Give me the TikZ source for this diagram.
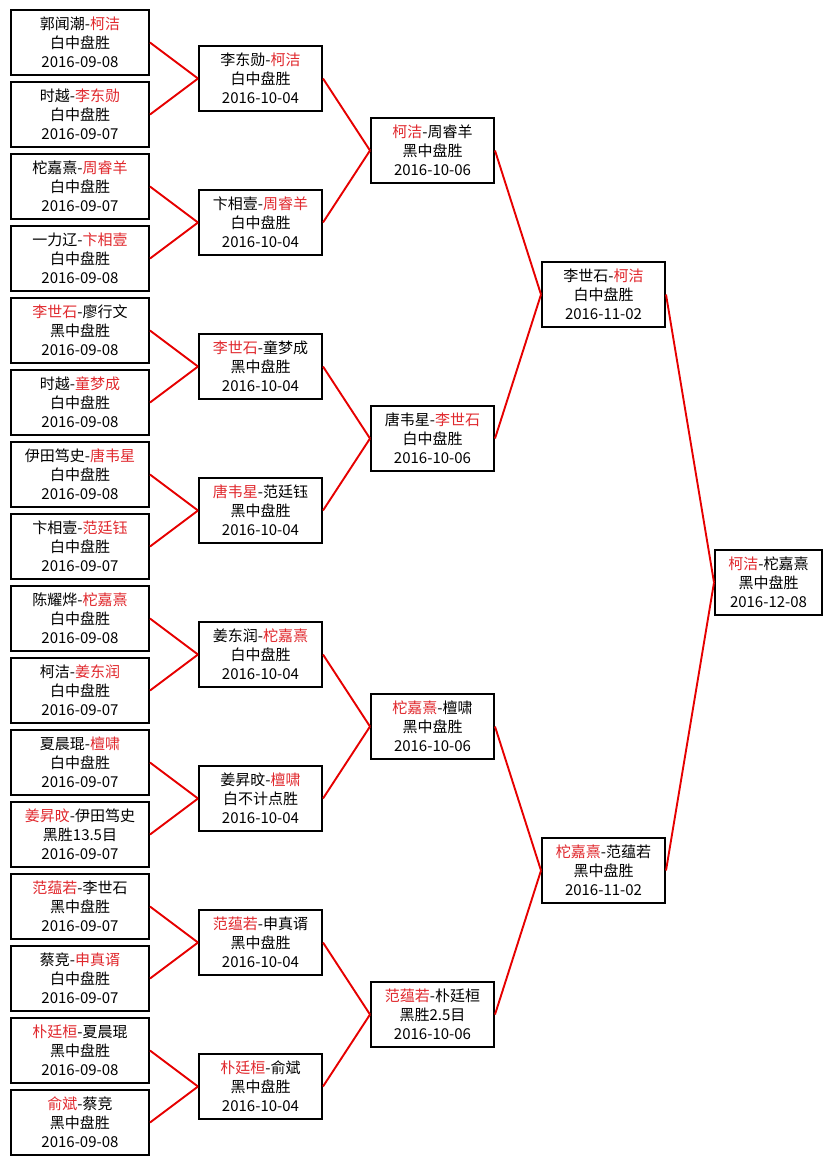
\documentclass[tikz,border=0pt]{standalone}
\usepackage{fontspec}
\setmainfont{Noto Sans CJK SC}
\definecolor{winred}{HTML}{E0282D}
\definecolor{linkred}{HTML}{E60000}
\newcommand{\winner}[1]{\textcolor{winred}{#1}}

\begin{document}
\begin{tikzpicture}[x=1pt, y=-1pt,
        game/.style={draw, line width=2pt, minimum height=65pt, inner sep=0pt, align=center, font=\fontsize{15}{19}\selectfont},
        first/.style={game, minimum width=138pt},
        later/.style={game, minimum width=123pt},
        link/.style={linkred, line width=1.9pt}
    ]
      \useasboundingbox (0,0) rectangle (832,1165);
      % round 1
      \node[first] (a1) at (80,42.5) {郭闻潮-\winner{柯洁}\\白中盘胜\\2016-09-08};
      \node[first] (a2) at (80,114.5) {时越-\winner{李东勋}\\白中盘胜\\2016-09-07};
      \node[first] (a3) at (80,186.5) {柁嘉熹-\winner{周睿羊}\\白中盘胜\\2016-09-07};
      \node[first] (a4) at (80,258.5) {一力辽-\winner{卞相壹}\\白中盘胜\\2016-09-08};
      \node[first] (a5) at (80,330.5) {\winner{李世石}-廖行文\\黑中盘胜\\2016-09-08};
      \node[first] (a6) at (80,402.5) {时越-\winner{童梦成}\\白中盘胜\\2016-09-08};
      \node[first] (a7) at (80,474.5) {伊田笃史-\winner{唐韦星}\\白中盘胜\\2016-09-08};
      \node[first] (a8) at (80,546.5) {卞相壹-\winner{范廷钰}\\白中盘胜\\2016-09-07};
      \node[first] (a9) at (80,618.5) {陈耀烨-\winner{柁嘉熹}\\白中盘胜\\2016-09-08};
      \node[first] (a10) at (80,690.5) {柯洁-\winner{姜东润}\\白中盘胜\\2016-09-07};
      \node[first] (a11) at (80,762.5) {夏晨琨-\winner{檀啸}\\白中盘胜\\2016-09-07};
      \node[first] (a12) at (80,834.5) {\winner{姜昇旼}-伊田笃史\\黑胜13.5目\\2016-09-07};
      \node[first] (a13) at (80,906.5) {\winner{范蕴若}-李世石\\黑中盘胜\\2016-09-07};
      \node[first] (a14) at (80,978.5) {蔡竞-\winner{申真谞}\\白中盘胜\\2016-09-07};
      \node[first] (a15) at (80,1050.5) {\winner{朴廷桓}-夏晨琨\\黑中盘胜\\2016-09-08};
      \node[first] (a16) at (80,1122.5) {\winner{俞斌}-蔡竞\\黑中盘胜\\2016-09-08};
      % round 2
      \node[later] (b1) at (260.5,78.5) {李东勋-\winner{柯洁}\\白中盘胜\\2016-10-04};
      \node[later] (b2) at (260.5,222.5) {卞相壹-\winner{周睿羊}\\白中盘胜\\2016-10-04};
      \node[later] (b3) at (260.5,366.5) {\winner{李世石}-童梦成\\黑中盘胜\\2016-10-04};
      \node[later] (b4) at (260.5,510.5) {\winner{唐韦星}-范廷钰\\黑中盘胜\\2016-10-04};
      \node[later] (b5) at (260.5,654.5) {姜东润-\winner{柁嘉熹}\\白中盘胜\\2016-10-04};
      \node[later] (b6) at (260.5,798.5) {姜昇旼-\winner{檀啸}\\白不计点胜\\2016-10-04};
      \node[later] (b7) at (260.5,942.5) {\winner{范蕴若}-申真谞\\黑中盘胜\\2016-10-04};
      \node[later] (b8) at (260.5,1086.5) {\winner{朴廷桓}-俞斌\\黑中盘胜\\2016-10-04};
      % quarter finals
      \node[later] (c1) at (432.5,150.5) {\winner{柯洁}-周睿羊\\黑中盘胜\\2016-10-06};
      \node[later] (c2) at (432.5,438.5) {唐韦星-\winner{李世石}\\白中盘胜\\2016-10-06};
      \node[later] (c3) at (432.5,726.5) {\winner{柁嘉熹}-檀啸\\黑中盘胜\\2016-10-06};
      \node[later] (c4) at (432.5,1014.5) {\winner{范蕴若}-朴廷桓\\黑胜2.5目\\2016-10-06};
      % semi finals
      \node[later] (d1) at (603.5,294.5) {李世石-\winner{柯洁}\\白中盘胜\\2016-11-02};
      \node[later] (d2) at (603.5,870.5) {\winner{柁嘉熹}-范蕴若\\黑中盘胜\\2016-11-02};
      % final
      \node[game, minimum width=107pt] (e1) at (768.5,582.5) {\winner{柯洁}-柁嘉熹\\黑中盘胜\\2016-12-08};
      % connectors
      \foreach \from/\to/\n in {a/b/8, b/c/4, c/d/2, d/e/1} {
        \foreach \i in {1,...,\n} {
          \pgfmathtruncatemacro\up{2*\i-1}
          \pgfmathtruncatemacro\dn{2*\i}
          \draw[link] (\from\up.east) -- (\to\i.west);
          \draw[link] (\from\dn.east) -- (\to\i.west);
        }
      }
    \end{tikzpicture}
\end{document}
